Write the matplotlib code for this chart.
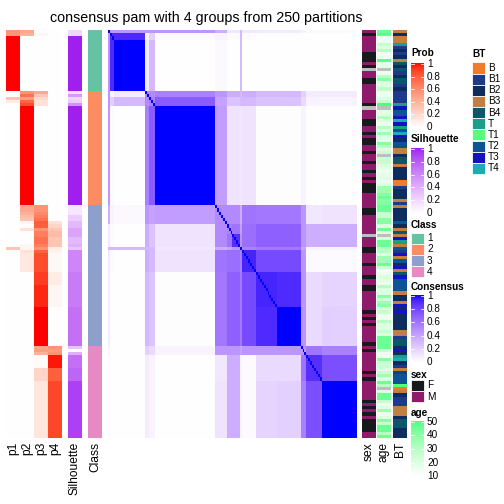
import numpy as np
import matplotlib
matplotlib.use("Agg")
import matplotlib.pyplot as plt
from matplotlib.colors import ListedColormap, to_rgb
from matplotlib.patches import Rectangle

plt.rcParams['font.family'] = ['Liberation Sans', 'DejaVu Sans']

# ------------------------------------------------------------------ data
title = "consensus pam with 4 groups from 250 partitions"
class_labels = ['1', '2', '3', '4']
class_sizes = [19, 36, 44, 29]

# membership probability runs: (n rows, p1, p2, p3, p4)
prob_runs = [
    (1, .55, .45, 0, 0), (1, .55, .40, .05, 0), (17, 1, 0, 0, 0),
    (1, 0, .55, .45, 0), (1, 0, .70, .30, 0), (1, .30, .50, .20, 0),
    (1, .10, .75, .15, 0), (1, 0, .85, .15, 0), (31, 0, 1, 0, 0),
    (2, 0, .45, .55, 0), (1, 0, .40, .60, 0), (1, 0, .35, .65, 0),
    (1, 0, .30, .70, 0), (1, 0, .05, .80, .15), (1, 0, 0, .78, .22),
    (1, 0, .15, .55, .30), (2, 0, 0, .65, .35), (2, 0, 0, .70, .30),
    (1, 0, .05, .65, .30), (1, .30, .05, .55, .10), (1, 0, .15, .78, .07),
    (6, 0, .12, .85, .03), (4, 0, 0, .90, .10), (7, 0, 0, .95, .05),
    (12, 0, 0, 1, 0),
    (1, 0, 0, .45, .55), (1, 0, 0, .50, .50), (1, 0, 0, .40, .55),
    (4, 0, 0, .02, .98), (4, 0, 0, .22, .78), (18, 0, 0, .13, .87),
]

# silhouette runs: (n rows, value)
silhouette_runs = [
    (2, .20), (17, 1.0),
    (1, .15), (1, .50), (1, .20), (1, .25), (1, .55), (31, 1.0),
    (3, .12), (2, .25), (2, .35), (3, .45), (2, .35), (1, .40), (1, .30),
    (7, .60), (11, .65), (12, .70),
    (1, .30), (1, 0.0), (1, .40), (4, .70), (4, .75), (18, .90),
]

# consensus: sample segments and block values (upper triangle, row-wise)
segment_sizes = [1, 2, 16, 2, 3, 31, 6, 3, 4, 1, 7, 11, 12, 3, 8, 18]
consensus_blocks = [
    [.45, .45, .45, .45, .45, .45, .35, .10, .10, .30, .10, .08, .08, .05, .02, .02],
    [.90, .90, .05, .20, .02, .05, .02, .02, .30, .02, 0, 0, 0, 0, 0],
    [1.0, .08, .30, 0, .03, 0, 0, .30, 0, 0, 0, 0, 0, 0],
    [.50, .50, .55, .45, .35, .35, .30, .35, .30, .30, .20, .08, .08],
    [.55, .70, .40, .25, .25, .30, .30, .25, .25, .15, .05, .05],
    [1.0, .42, .12, .12, .10, .12, .01, .01, .05, 0, 0],
    [.50, .50, .50, .35, .60, .58, .58, .45, .10, .12],
    [.55, .60, .40, .62, .68, .68, .45, .35, .35],
    [.88, .45, .62, .68, .68, .45, .35, .35],
    [1.0, .55, .58, .58, .40, .05, .05],
    [.92, .78, .78, .45, .02, .02],
    [.92, .90, .45, .15, .18],
    [1.0, .45, .15, .20],
    [.45, .60, .55],
    [.88, .76],
    [1.0],
]

# sex runs: (value, n rows)  N = missing
sex_runs = [
    ('M', 1), ('F', 1), ('M', 5), ('F', 3), ('M', 1), ('F', 1), ('N', 1), ('M', 2),
    ('F', 2), ('M', 6), ('F', 1), ('N', 1), ('M', 3), ('F', 2), ('M', 2), ('F', 1),
    ('M', 1), ('F', 2), ('M', 2), ('F', 1), ('M', 2), ('F', 1), ('M', 2), ('F', 1),
    ('M', 1), ('F', 1), ('M', 1), ('F', 3), ('M', 5), ('F', 2), ('M', 6), ('N', 1),
    ('M', 3), ('F', 2), ('M', 3), ('F', 1), ('M', 3), ('F', 1), ('M', 2), ('F', 2),
    ('M', 6), ('F', 1), ('M', 1), ('F', 1), ('M', 1), ('F', 1), ('M', 5), ('F', 1),
    ('M', 1), ('F', 1), ('M', 6), ('F', 1), ('M', 1), ('F', 1), ('M', 6), ('F', 1),
    ('M', 1), ('F', 1), ('M', 1), ('F', 1), ('M', 1), ('F', 4), ('M', 2),
]

nan = np.nan
age = [
    45, 48, 15, 15, 25, 20, 30, 15, 15, 48,
    18, 18, nan, 15, 30, 40, 20, 20, 28, 15,
    15, 20, 25, 50, nan, 18, 18, 30, 20, 15,
    30, 20, 35, 20, 18, 40, 30, 20, 25, nan,
    25, 25, 20, 18, 15, 18, 20, 15, 20, 35,
    35, 40, 45, 40, 42, 45, 45, 25, 25, 40,
    40, 20, 45, 20, nan, 22, 45, 45, 30, 30,
    20, 35, 35, 45, 25, 12, 15, 20, 18, 15,
    30, 20, 20, 40, 25, 35, 40, 20, 25, 15,
    15, 30, 20, 20, 25, 20, 45, 45, 45, 45,
    25, 15, 15, 40, 25, 25, 20, 25, 35, 20,
    45, 30, nan, 20, 45, 45, 25, 15, 20, 35,
    15, 20, 40, 25, 45, 45, 30, 45,
]

bt_levels = ['B', 'B1', 'B2', 'B3', 'B4', 'T', 'T1', 'T2', 'T3', 'T4']
bt = [
    'B3', 'B2', 'B3', 'B3', 'T', 'B1', 'B2', 'B1', 'B2', 'B3',
    'B4', 'B2', 'B4', 'B1', 'B2', 'B4', 'B4', 'B1', 'B2', 'B1',
    'B1', 'B1', 'B1', 'T', 'T3', 'T2', 'T2', 'T3', 'T4', 'T3',
    'T', 'T2', 'T4', 'T3', 'B2', 'T2', 'B4', 'B3', 'B3', 'B2',
    'B4', 'B4', 'B3', 'B2', 'B2', 'B2', 'B2', 'B', 'B', 'B1',
    'B2', 'B2', 'B2', 'B3', 'B1', 'B3', 'B2', 'B2', 'B2', 'B2',
    'T2', 'B2', 'B3', 'B4', 'B3', 'T3', 'T', 'B3', 'T2', 'B1',
    'T3', 'B3', 'T2', 'B2', 'T3', 'B3', 'B4', 'T3', 'T2', 'T2',
    'T2', 'T2', 'B3', 'B2', 'B2', 'B3', 'T3', 'B2', 'T3', 'B2',
    'B2', 'B2', 'B2', 'B2', 'B3', 'B3', 'B1', 'B4', 'B4', 'B2',
    'T3', 'B2', 'T', 'T4', 'B2', 'B1', 'B3', 'B1', 'T2', 'T2',
    'T2', 'T1', 'B', 'B3', 'B2', 'B1', 'B1', 'B1', 'B3', 'B3',
    'B3', 'B2', 'B4', 'B4', 'B4', 'B2', 'B2', 'B2',
]

# ------------------------------------------------------------------ colours
class_colors = ['#66C2A5', '#FC8D62', '#8DA0CB', '#E78AC3']
sex_colors = {'F': '#171A1C', 'M': '#8E1B69', 'N': '#BEBEBE'}
bt_colors = ['#EF7B2B', '#1F3A8A', '#0D2D5E', '#C07F43', '#0A5769',
             '#1C9E88', '#55FF7C', '#0C5495', '#1414BE', '#1BADB0']
na_color = '#BEBEBE'


def _f(t):
    d = 6 / 29
    return np.where(t > d ** 3, np.cbrt(t), t / (3 * d * d) + 4 / 29)


def _finv(t):
    d = 6 / 29
    return np.where(t > d, t ** 3, 3 * d * d * (t - 4 / 29))


_M = np.array([[0.4124, 0.3576, 0.1805], [0.2126, 0.7152, 0.0722], [0.0193, 0.1192, 0.9505]])
_WP = np.array([0.95047, 1.0, 1.08883])


def to_lab(c):
    c = np.array(to_rgb(c))
    lin = np.where(c <= 0.04045, c / 12.92, ((c + 0.055) / 1.055) ** 2.4)
    xyz = _M @ lin / _WP
    fx, fy, fz = _f(xyz)
    return np.array([116 * fy - 16, 500 * (fx - fy), 200 * (fy - fz)])


def from_lab(lab):
    L, a, b = lab[..., 0], lab[..., 1], lab[..., 2]
    fy = (L + 16) / 116
    fx = fy + a / 500
    fz = fy - b / 200
    xyz = np.stack([_finv(fx), _finv(fy), _finv(fz)], -1) * _WP
    lin = xyz @ np.linalg.inv(_M).T
    lin = np.clip(lin, 0, 1)
    rgb = np.where(lin <= 0.0031308, 12.92 * lin, 1.055 * lin ** (1 / 2.4) - 0.055)
    return np.clip(rgb, 0, 1)


def lab_cmap(c0, c1, n=256):
    t = np.linspace(0, 1, n)[:, None]
    lab = to_lab(c0)[None, :] * (1 - t) + to_lab(c1)[None, :] * t
    return ListedColormap(from_lab(lab))


cmap_prob = lab_cmap('white', '#FF0000')
cmap_sil = lab_cmap('white', '#A020F0')
cmap_cons = lab_cmap('white', '#0000FF')
cmap_age = lab_cmap('white', '#4CFF88')
cmap_age.set_bad(na_color)

# ------------------------------------------------------------------ build arrays
prob = np.array([r[1:] for r in prob_runs for _ in range(r[0])], float)
sil = np.array([v for n, v in silhouette_runs for _ in range(n)], float)
cls = np.repeat(np.arange(4), class_sizes)
sex = [v for v, n in sex_runs for _ in range(n)]
seg_id = np.repeat(np.arange(len(segment_sizes)), segment_sizes)
nseg = len(segment_sizes)
B = np.zeros((nseg, nseg))
for i, row in enumerate(consensus_blocks):
    for k, v in enumerate(row):
        B[i, i + k] = v
        B[i + k, i] = v
cons = B[seg_id][:, seg_id]
np.fill_diagonal(cons, 1.0)
N = len(cls)

# ------------------------------------------------------------------ figure
W = H = 504
fig = plt.figure(figsize=(W / 72, H / 72), dpi=72)


def add_ax(x0, y0, x1, y1):
    ax = fig.add_axes([x0 / W, 1 - y1 / H, (x1 - x0) / W, (y1 - y0) / H])
    ax.set_axis_off()
    return ax


def ftext(x, y, s, **kw):
    fig.text(x / W, 1 - y / H, s, **kw)


top, bot = 30, 438

ax = add_ax(6, top, 62, bot)
ax.imshow(prob, cmap=cmap_prob, vmin=0, vmax=1, aspect='auto', interpolation='nearest')

ax = add_ax(68, top, 82, bot)
ax.imshow(sil[:, None], cmap=cmap_sil, vmin=0, vmax=1, aspect='auto', interpolation='nearest')

ax = add_ax(88, top, 102, bot)
ax.imshow(cls[:, None], cmap=ListedColormap(class_colors), vmin=-0.5, vmax=3.5,
          aspect='auto', interpolation='nearest')

ax = add_ax(108, top, 357, bot)
ax.imshow(cons, cmap=cmap_cons, vmin=0, vmax=1, aspect='auto', interpolation='nearest')

sex_rgb = np.array([to_rgb(sex_colors[s]) for s in sex])[:, None, :]
ax = add_ax(362, top, 376, bot)
ax.imshow(sex_rgb, aspect='auto', interpolation='nearest')

ax = add_ax(377, top, 391, bot)
ax.imshow(np.ma.masked_invalid(np.array(age, float))[:, None], cmap=cmap_age,
          vmin=10, vmax=50, aspect='auto', interpolation='nearest')

bt_rgb = np.array([to_rgb(bt_colors[bt_levels.index(b)]) for b in bt])[:, None, :]
ax = add_ax(393, top, 407, bot)
ax.imshow(bt_rgb, aspect='auto', interpolation='nearest')

# title
ftext(206, 18, title, ha='center', va='center', fontsize=14.3)

# column labels
for x, s in [(13, 'p1'), (27, 'p2'), (41, 'p3'), (55, 'p4'), (75, 'Silhouette'),
             (95, 'Class'), (369, 'sex'), (384, 'age'), (400, 'BT')]:
    ftext(x, 442, s, rotation=90, ha='center', va='top', fontsize=12)

# ------------------------------------------------------------------ legends
LX = 411
lfs = 10


def grad_legend(title_s, ty, y0, y1, cmap, ticks, tlabels, vmin, vmax):
    ftext(LX, ty, title_s, ha='left', va='center', fontsize=lfs, fontweight='bold')
    ax = add_ax(LX, y0, LX + 13, y1)
    ax.imshow(np.linspace(vmax, vmin, 256)[:, None], cmap=cmap, vmin=vmin, vmax=vmax,
              aspect='auto', extent=(0, 1, vmin, vmax), interpolation='bilinear')
    ax.set_xlim(0, 1)
    ax.set_ylim(vmin - (vmax - vmin) * 0.03, vmax + (vmax - vmin) * 0.03)
    for t in ticks:
        ax.plot([0, 0.2], [t, t], color='white', lw=0.8)
        ax.plot([0.8, 1], [t, t], color='white', lw=0.8)
    for t, lab in zip(ticks, tlabels):
        yy = y1 - (t - (vmin - (vmax - vmin) * 0.03)) / ((vmax - vmin) * 1.06) * (y1 - y0)
        ftext(LX + 16, yy, lab, ha='left', va='center', fontsize=lfs)


pt = [0, 0.2, 0.4, 0.6, 0.8, 1]
pl = ['0', '0.2', '0.4', '0.6', '0.8', '1']
grad_legend('Prob', 53, 62, 129, cmap_prob, pt, pl, 0, 1)
grad_legend('Silhouette', 139.5, 147, 215, cmap_sil, pt, pl, 0, 1)

ftext(LX, 224.5, 'Class', ha='left', va='center', fontsize=lfs, fontweight='bold')
for i, (c, lab) in enumerate(zip(class_colors, class_labels)):
    y0 = 232.5 + i * 11.3
    fig.patches.append(Rectangle((LX / W, 1 - (y0 + 11) / H), 13 / W, 11 / H,
                                 transform=fig.transFigure, facecolor=c, edgecolor='white', lw=0.8))
    ftext(LX + 16, y0 + 5.5, lab, ha='left', va='center', fontsize=lfs)

grad_legend('Consensus', 287, 294, 364, cmap_cons, pt, pl, 0, 1)

ftext(LX, 374.5, 'sex', ha='left', va='center', fontsize=lfs, fontweight='bold')
for i, (k, lab) in enumerate([('F', 'F'), ('M', 'M')]):
    y0 = 380 + i * 11.3
    fig.patches.append(Rectangle((LX / W, 1 - (y0 + 11) / H), 13 / W, 11 / H,
                                 transform=fig.transFigure, facecolor=sex_colors[k],
                                 edgecolor='white', lw=0.8))
    ftext(LX + 16, y0 + 5.5, lab, ha='left', va='center', fontsize=lfs)

grad_legend('age', 413.5, 420, 478, cmap_age, [10, 20, 30, 40, 50],
            ['10', '20', '30', '40', '50'], 10, 50)

BX = 472
ftext(BX, 54, 'BT', ha='left', va='center', fontsize=lfs, fontweight='bold')
for i, (c, lab) in enumerate(zip(bt_colors, bt_levels)):
    y0 = 62.5 + i * 11.15
    fig.patches.append(Rectangle((BX / W, 1 - (y0 + 11) / H), 13 / W, 11 / H,
                                 transform=fig.transFigure, facecolor=c, edgecolor='white', lw=0.8))
    ftext(BX + 16, y0 + 5.5, lab, ha='left', va='center', fontsize=lfs)

fig.savefig('out.png', dpi=72)
